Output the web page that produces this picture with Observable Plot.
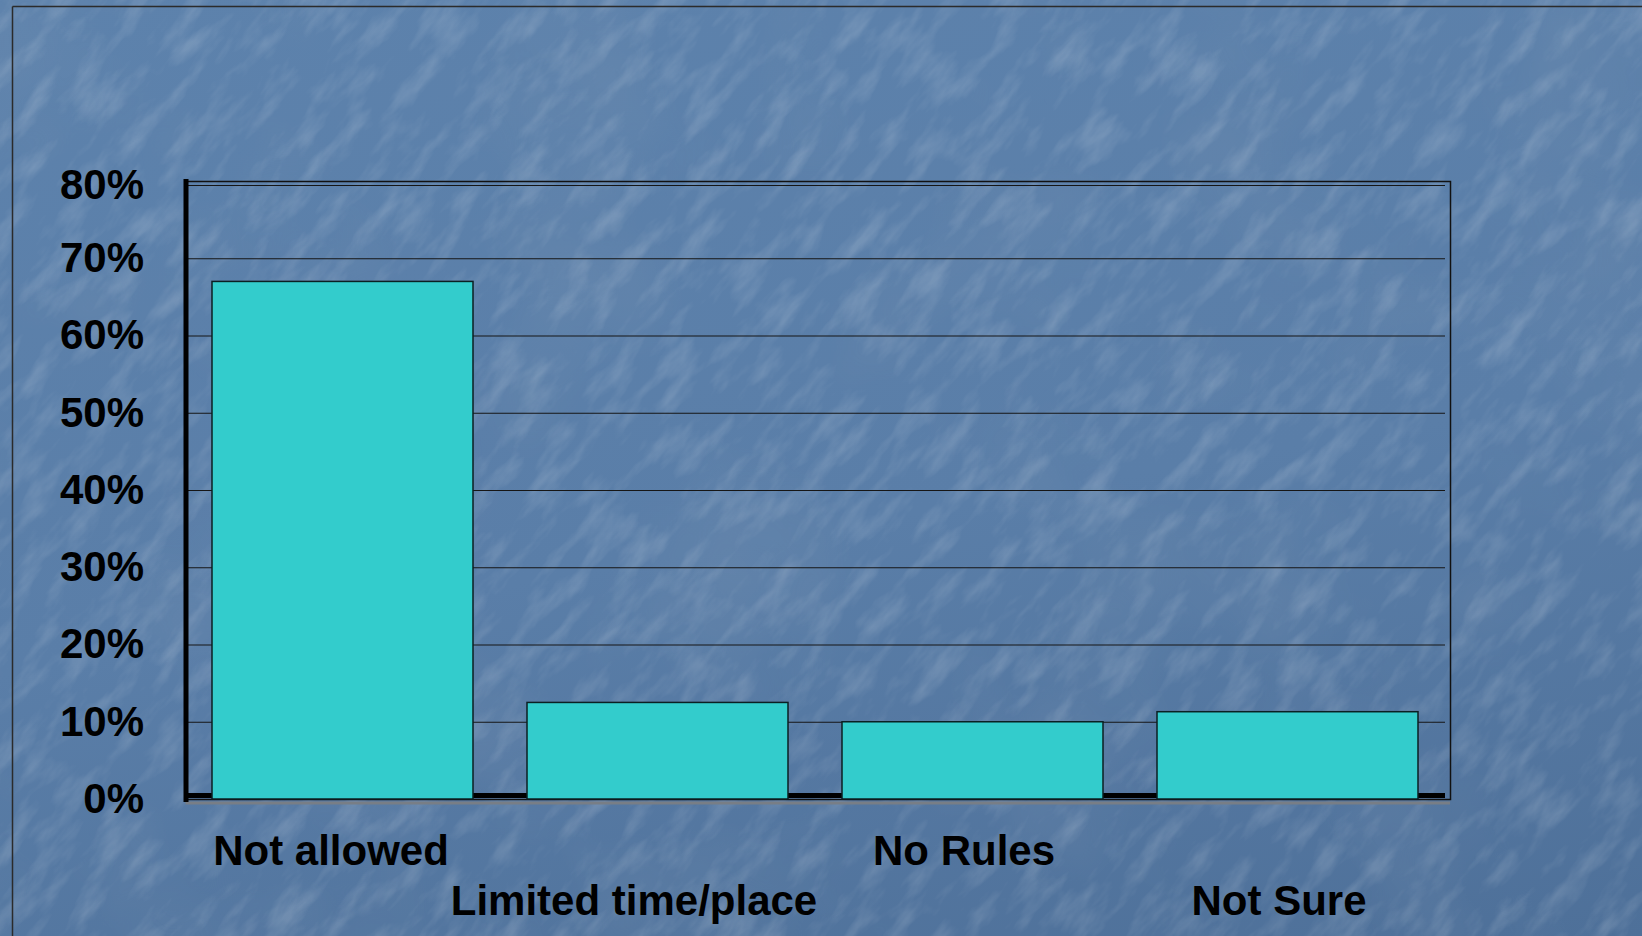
<!DOCTYPE html>
<html>
<head>
<meta charset="utf-8">
<script src="https://cdn.jsdelivr.net/npm/d3@7"></script>
<script src="https://cdn.jsdelivr.net/npm/@observablehq/plot@0.6"></script>
<style>
  html, body { margin: 0; padding: 0; width: 1642px; height: 936px; overflow: hidden; }
  body { position: relative; background: linear-gradient(170deg, #5d82ac 0%, #5a7ea8 55%, #4e7099 100%); }
  #bg { position: absolute; left: 0; top: 0; }
  #chart { position: absolute; left: 0; top: 0; }
</style>
</head>
<body>
<svg id="bg" width="1642" height="936">
  <defs>
    <filter id="tissue" x="0" y="0" width="100%" height="100%">
      <feTurbulence type="fractalNoise" baseFrequency="0.018 0.05" numOctaves="4" seed="11"/>
      <feColorMatrix type="matrix" values="0 0 0 0 1  0 0 0 0 1  0 0 0 0 1  2.4 0 0 0 -1.1"/>
    </filter>
    <filter id="mottle" x="0" y="0" width="100%" height="100%">
      <feTurbulence type="fractalNoise" baseFrequency="0.006" numOctaves="3" seed="4"/>
      <feColorMatrix type="matrix" values="0 0 0 0 0.2  0 0 0 0 0.3  0 0 0 0 0.45  1.6 0 0 0 -0.75"/>
    </filter>
  </defs>
  <rect x="0" y="0" width="1642" height="936" filter="url(#mottle)" opacity="0.35"/>
  <g transform="rotate(-50 821 468)">
    <rect x="-600" y="-800" width="2900" height="2600" filter="url(#tissue)" opacity="0.15"/>
  </g>
  <line x1="12.5" y1="6.5" x2="12.5" y2="936" stroke="#2b2b2b" stroke-width="1.5"/>
  <line x1="12.5" y1="6.5" x2="1642" y2="6.5" stroke="#2b2b2b" stroke-width="1.5"/>
</svg>
<div id="chart"></div>
<script>
const categories = ["Not allowed", "Limited time/place", "No Rules", "Not Sure"];
const values = [0.67, 0.125, 0.10, 0.113];
const yTicks = [0, 0.1, 0.2, 0.3, 0.4, 0.5, 0.6, 0.7, 0.8];
const labelRow1 = ["Not allowed", "No Rules"];
const labelRow2 = ["Limited time/place", "Not Sure"];

const data = categories.map((c, i) => ({category: c, value: values[i]}));
const innerGrid = yTicks.filter(t => t > 0 && t < 0.8);
const topTick = yTicks.filter(t => t === 0.8);
const lowerTicks = yTicks.filter(t => t < 0.8);
const pct = d3.format(".0%");
const axisFont = {fontSize: 42, fontWeight: "bold"};

const chart = Plot.plot({
  width: 1642,
  height: 936,
  marginLeft: 185.5,
  marginRight: 192,
  marginTop: 181,
  marginBottom: 137,
  style: {
    background: "transparent",
    fontFamily: "'Liberation Sans', Arial, sans-serif",
    fontSize: "42px",
    fontWeight: "bold",
    color: "#000",
    overflow: "visible"
  },
  x: {domain: categories, paddingInner: 0.17, paddingOuter: 0.09, align: 0.46, label: null},
  y: {domain: [0, 0.8], label: null},
  marks: [
    Plot.ruleY(innerGrid, {stroke: "#161616", strokeWidth: 1.2, insetRight: 5}),
    Plot.ruleY(topTick, {stroke: "#161616", strokeWidth: 1.2, insetRight: 5, dy: 4}),
    Plot.frame({stroke: "#111", strokeWidth: 1.5}),
    Plot.ruleY([0], {stroke: "#787e86", strokeWidth: 3, dy: 3.5}),
    Plot.ruleY([0], {stroke: "#000", strokeWidth: 5, dy: -4, insetRight: 5}),
    Plot.barY(data, {x: "category", y: "value", fill: "#33cccc", stroke: "#0b1f22", strokeWidth: 1.5}),
    Plot.frame({anchor: "left", stroke: "#000", strokeWidth: 5}),
    Plot.axisY({ticks: lowerTicks, tickFormat: pct, tickSize: 0, tickPadding: 42, ...axisFont, label: null}),
    Plot.axisY({ticks: topTick, tickFormat: pct, tickSize: 0, tickPadding: 42, dy: 4, ...axisFont, label: null}),
    Plot.axisX({ticks: labelRow1.slice(0, 1), tickSize: 0, tickPadding: 36, dx: -12, ...axisFont, label: null}),
    Plot.axisX({ticks: labelRow1.slice(1), tickSize: 0, tickPadding: 36, dx: -9, ...axisFont, label: null}),
    Plot.axisX({ticks: labelRow2.slice(0, 1), tickSize: 0, tickPadding: 86, dx: -24, ...axisFont, label: null}),
    Plot.axisX({ticks: labelRow2.slice(1), tickSize: 0, tickPadding: 86, dx: -9, ...axisFont, label: null})
  ]
});
document.getElementById("chart").appendChild(chart);
</script>
</body>
</html>
